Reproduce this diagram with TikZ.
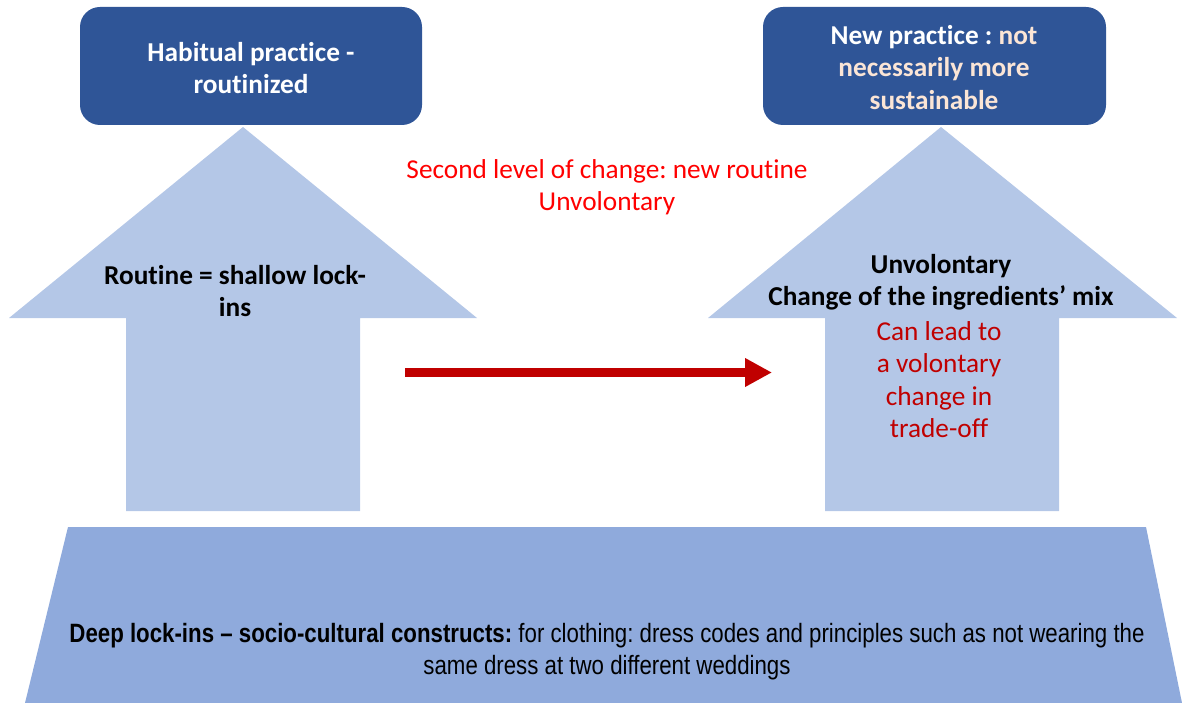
\documentclass[tikz,border=0pt]{standalone}
\usepackage{fontspec}
\setmainfont{Carlito}[Ligatures={TeX,NoCommon}]
\newfontfamily\arialn[FakeStretch=0.84]{Liberation Sans}
\usetikzlibrary{arrows.meta}
\frenchspacing
\definecolor{boxblue}{HTML}{2F5597}
\definecolor{lightblue}{HTML}{B4C7E7}
\definecolor{baseblue}{HTML}{8FAADC}
\definecolor{peach}{HTML}{FBE5D6}
\definecolor{darkred}{HTML}{C00000}
\definecolor{brightred}{HTML}{FF0000}
\tikzset{
  topbox/.style={fill=boxblue, draw=none, rounded corners=20pt},
  bigarrow/.style={fill=lightblue, draw=none},
  basebox/.style={fill=baseblue, draw=none},
  lbl/.style={align=center, inner sep=0pt, font=\frenchspacing\fontsize{27.3}{32.3}\selectfont},
  boldlbl/.style={lbl, font=\frenchspacing\fontsize{27.3}{32.3}\selectfont\bfseries},
  redarrow/.style={draw=darkred, line width=9pt, -{Triangle[length=27pt,width=27pt]}}
}
\begin{document}
\begin{tikzpicture}[x=1pt,y=-1pt]
\useasboundingbox (0,0) rectangle (1182,703);
% base trapezoid
\fill[basebox] (68,527) -- (1146,527) -- (1182,703) -- (25,703) -- cycle;
% top boxes
\fill[topbox] (80,7) rectangle (422,125);
\fill[topbox] (763,7) rectangle (1106,125);
% big arrows
\fill[bigarrow] (243,127) -- (477,318) -- (360,318) -- (360,511) -- (126,511) -- (126,318) -- (9,318) -- cycle;
\fill[bigarrow] (941,127) -- (1177,318) -- (1059,318) -- (1059,511) -- (825,511) -- (825,318) -- (708,318) -- cycle;
% texts
\node[boldlbl, text=white] (habit) at (251,68) {Habitual practice -\\routinized};
\node[boldlbl, text=white] (newp) at (934,67.5) {New practice : \textcolor{peach}{not}\\\textcolor{peach}{necessarily more}\\\textcolor{peach}{sustainable}};
\node[lbl, text=brightred] (second) at (607,187.5) {Second level of change: new routine\\Unvolontary};
\node[boldlbl] (routine) at (235,291) {Routine = shallow lock-\\ins};
\node[boldlbl] (unvol) at (941,282.5) {Unvolontary\\Change of the ingredients' mix};
\node[lbl, text=darkred] (canlead) at (939,379.5) {Can lead to\\a volontary\\change in\\trade-off};
\node[align=center, inner sep=0pt, font=\arialn\frenchspacing\fontsize{26.5}{32}\selectfont] (deep) at (607,652)
  {\textbf{Deep lock-ins – socio-cultural constructs:} for clothing: dress codes and principles such as not wearing the\\same dress at two different weddings};
% red arrow
\coordinate (rs) at (405,372.5);
\coordinate (re) at (772,372.5);
\draw[redarrow] (rs) -- (re);
\end{tikzpicture}
\end{document}
